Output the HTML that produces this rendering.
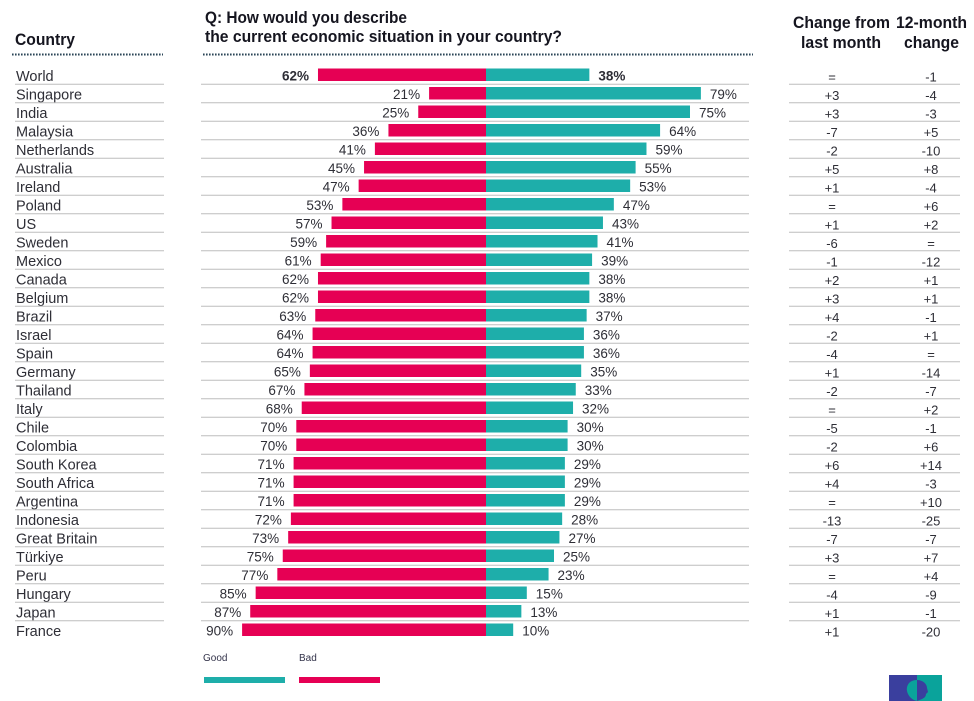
<!DOCTYPE html>
<html lang="en">
<head>
<meta charset="utf-8">
<title>Economic situation by country</title>
<style>
html,body{margin:0;padding:0;background:#fff;width:974px;height:701px;overflow:hidden}
svg{display:block;font-family:"Liberation Sans",sans-serif}
.h{font-weight:700;font-size:16.5px;fill:#15151f}
.t{font-size:13.5px;fill:#2e2e36}
.c{font-size:14.5px;fill:#2e2e36}
</style>
</head>
<body>
<svg id="chart" width="974" height="701" viewBox="0 0 974 701" xmlns="http://www.w3.org/2000/svg">
<text class="h" x="15" y="45" textLength="60" lengthAdjust="spacingAndGlyphs">Country</text>
<text class="h" x="205" y="23" textLength="202" lengthAdjust="spacingAndGlyphs">Q: How would you describe</text>
<text class="h" x="205" y="42" textLength="357" lengthAdjust="spacingAndGlyphs">the current economic situation in your country?</text>
<text class="h" x="793" y="28" textLength="97" lengthAdjust="spacingAndGlyphs">Change from</text>
<text class="h" x="801" y="48" textLength="80" lengthAdjust="spacingAndGlyphs">last month</text>
<text class="h" x="896" y="28" textLength="71" lengthAdjust="spacingAndGlyphs">12-month</text>
<text class="h" x="904" y="48" textLength="55" lengthAdjust="spacingAndGlyphs">change</text>
<line x1="12" x2="163" y1="54.5" y2="54.5" stroke="#2b4557" stroke-width="2" stroke-dasharray="1.6 1.4"/>
<line x1="203" x2="753" y1="54.5" y2="54.5" stroke="#2b4557" stroke-width="2" stroke-dasharray="1.6 1.4"/>
<g id="rows"></g>
<text x="203" y="661" font-size="10" fill="#33334a">Good</text>
<rect x="204" y="677" width="81" height="6" fill="#1eaeaa"/>
<text x="299" y="661" font-size="10" fill="#33334a">Bad</text>
<rect x="299" y="677" width="81" height="6" fill="#e60054"/>
<g>
<rect x="889" y="675" width="28" height="26" fill="#3a3f9e"/>
<rect x="917" y="675" width="25" height="26" fill="#0aa39b"/>
<path d="M917 680 C909 680 906 686 907 691 C908 696 912 700 917 701 Z" fill="#0aa39b"/>
<path d="M917 680 C923 680 927 684 927 688 L928 692 L926 694 C926 698 922 699 917 701 Z" fill="#3a3f9e"/>
</g>
</svg>
<script>
const countries = ["World","Singapore","India","Malaysia","Netherlands","Australia","Ireland","Poland","US","Sweden","Mexico","Canada","Belgium","Brazil","Israel","Spain","Germany","Thailand","Italy","Chile","Colombia","South Korea","South Africa","Argentina","Indonesia","Great Britain","Türkiye","Peru","Hungary","Japan","France"];
const badValues = [62,21,25,36,41,45,47,53,57,59,61,62,62,63,64,64,65,67,68,70,70,71,71,71,72,73,75,77,85,87,90];
const goodValues = [38,79,75,64,59,55,53,47,43,41,39,38,38,37,36,36,35,33,32,30,30,29,29,29,28,27,25,23,15,13,10];
const monthChange = ["=","+3","+3","-7","-2","+5","+1","=","+1","-6","-1","+2","+3","+4","-2","-4","+1","-2","=","-5","-2","+6","+4","=","-13","-7","+3","=","-4","+1","+1"];
const yearChange = ["-1","-4","-3","+5","-10","+8","-4","+6","+2","=","-12","+1","+1","-1","+1","=","-14","-7","+2","-1","+6","+14","-3","+10","-25","-7","+7","+4","-9","-1","-20"];

const NS = "http://www.w3.org/2000/svg";
const rowsGroup = document.getElementById("rows");
const badScale = v => v * 2.71;
const goodScale = v => v * 2.72;
const yScale = i => 68.5 + i * 18.5;
const centerX = 486;

function make(tag, attrs, text) {
  const el = document.createElementNS(NS, tag);
  for (const k in attrs) el.setAttribute(k, attrs[k]);
  if (text !== undefined) el.textContent = text;
  rowsGroup.appendChild(el);
  return el;
}

countries.forEach((name, i) => {
  const top = yScale(i);
  const base = top + 11.5;
  const bold = i === 0 ? "700" : "400";

  const label = make("text", {x: 16, y: base + 1.2, class: "c"}, name);
  
  

  const badW = badScale(badValues[i]);
  const bad = make("rect", {x: centerX - badW, y: top, width: badW, height: 12.5, fill: "#e60054"});
  
  

  const goodW = goodScale(goodValues[i]);
  const good = make("rect", {x: centerX, y: top, width: goodW, height: 12.5, fill: "#1eaeaa"});
  
  

  const badText = make("text", {x: centerX - badW - 9, y: base + 0.5, class: "t", "text-anchor": "end", "font-weight": bold}, badValues[i] + "%");
  
  

  const goodText = make("text", {x: centerX + goodW + 9, y: base + 0.5, class: "t", "font-weight": bold}, goodValues[i] + "%");
  
  

  const month = make("text", {x: 832, y: base + 1.5, class: "t", "text-anchor": "middle"}, monthChange[i]);
  month.style.fontSize = "13px";
  
  

  const year = make("text", {x: 931, y: base + 1.5, class: "t", "text-anchor": "middle"}, yearChange[i]);
  year.style.fontSize = "13px";
  
  

  if (i < countries.length - 1) {
    const ly = top + 15.8;
    [[15, 164], [201, 749], [789, 960]].forEach(seg => {
      const rule = make("line", {x1: seg[0], x2: seg[1], y1: ly, y2: ly, stroke: "#bdbdbd", "stroke-width": 1});
      
      
    });
  }
});
</script>
</body>
</html>
